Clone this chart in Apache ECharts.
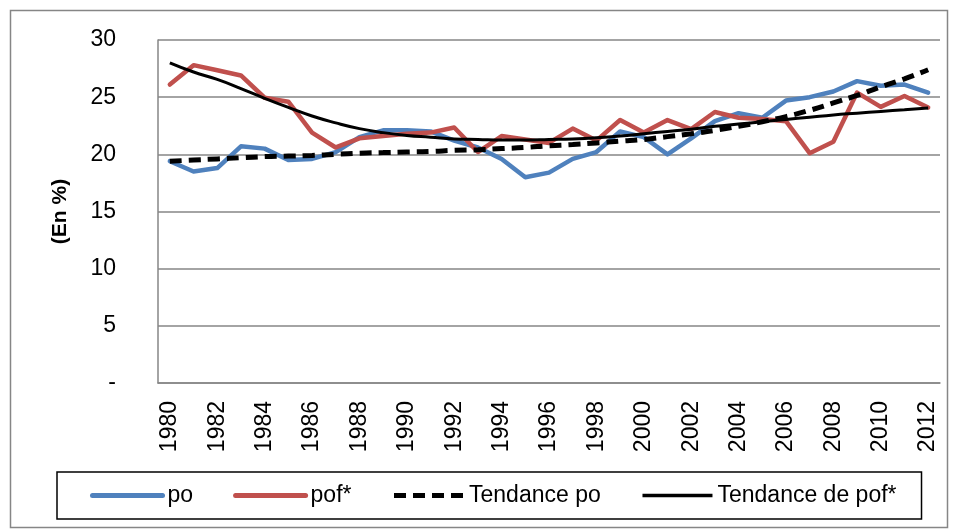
<!DOCTYPE html>
<html>
<head>
<meta charset="utf-8">
<script src="https://cdn.jsdelivr.net/npm/echarts@6/dist/echarts.min.js"></script>
<style>
  html, body { margin: 0; padding: 0; background: #fff; }
  #chart { width: 958px; height: 530px; }
</style>
</head>
<body>
<div id="chart"></div>
<script>
// annees 1980 - 2012
var years = ['1980','1981','1982','1983','1984','1985','1986','1987','1988','1989',
             '1990','1991','1992','1993','1994','1995','1996','1997','1998','1999',
             '2000','2001','2002','2003','2004','2005','2006','2007','2008','2009',
             '2010','2011','2012'];

var po = [19.4, 18.5, 18.8, 20.7, 20.5, 19.5, 19.6, 20.2, 21.5, 22.1,
          22.1, 22.0, 21.2, 20.6, 19.6, 18.0, 18.4, 19.6, 20.2, 22.0,
          21.5, 20.0, 21.4, 22.9, 23.6, 23.2, 24.7, 25.0, 25.5, 26.4,
          26.0, 26.1, 25.4];

var pof = [26.1, 27.8, 27.35, 26.9, 24.95, 24.6, 21.9, 20.6, 21.4, 21.6,
           21.8, 21.9, 22.35, 20.2, 21.6, 21.3, 21.0, 22.25, 21.2, 23.0,
           21.9, 23.0, 22.2, 23.7, 23.2, 23.1, 22.9, 20.1, 21.1, 25.4,
           24.15, 25.1, 24.1];

var tendancePo = [19.4, 19.5, 19.6, 19.7, 19.8, 19.85, 19.9, 20.0, 20.1, 20.15,
                  20.2, 20.25, 20.35, 20.4, 20.5, 20.6, 20.75, 20.85, 21.0, 21.15,
                  21.3, 21.55, 21.8, 22.1, 22.45, 22.85, 23.3, 23.85, 24.5, 25.15,
                  25.9, 26.6, 27.4];

var tendancePof = [28.0, 27.2, 26.55, 25.75, 24.9, 24.1, 23.35, 22.75, 22.25, 21.9,
                   21.65, 21.5, 21.35, 21.3, 21.25, 21.25, 21.3, 21.35, 21.45, 21.6,
                   21.8, 22.0, 22.2, 22.45, 22.65, 22.85, 23.05, 23.25, 23.45, 23.6,
                   23.75, 23.9, 24.05];

var myChart = echarts.init(document.getElementById('chart'));
var font = 'Liberation Sans, Arial, sans-serif';

var option = {
    backgroundColor: '#fff',
    animation: false,
    textStyle: { fontFamily: font, color: '#000' },
    graphic: [{
        type: 'rect',
        shape: { x: 10.5, y: 10.5, width: 937, height: 517 },
        style: { fill: 'none', stroke: '#868686', lineWidth: 1.5 },
        silent: true
    }],
    grid: { left: 158, right: 18, top: 40, bottom: 147 },
    legend: {
        left: 57,
        top: 472,
        padding: [12, 25, 12, 33],
        borderColor: '#000',
        borderWidth: 1.5,
        itemWidth: 70,
        itemHeight: 14,
        itemGap: 40,
        itemStyle: { opacity: 0 },
        textStyle: { fontFamily: font, fontSize: 23, color: '#000' },
        data: [
            { name: 'po', lineStyle: { width: 5 } },
            { name: 'pof*', lineStyle: { width: 5 } },
            { name: 'Tendance po', lineStyle: { width: 5 } },
            { name: 'Tendance de pof*', lineStyle: { width: 3.5 } }
        ]
    },
    xAxis: {
        type: 'category',
        data: years,
        boundaryGap: true,
        axisLine: { lineStyle: { color: '#868686', width: 1.5 } },
        axisTick: { show: false },
        axisLabel: {
            interval: 1,
            rotate: 90,
            margin: 18,
            fontSize: 23,
            color: '#000',
            fontFamily: font
        },
        splitLine: { show: false }
    },
    yAxis: {
        type: 'value',
        min: 0,
        max: 30,
        interval: 5,
        name: '(En %)',
        nameLocation: 'middle',
        nameRotate: 90,
        nameGap: 87,
        nameTextStyle: { fontSize: 21, fontWeight: 'bold', color: '#000', fontFamily: font },
        axisLine: { show: true, lineStyle: { color: '#868686', width: 1.5 } },
        axisTick: { show: false },
        axisLabel: {
            margin: 42,
            fontSize: 23,
            color: '#000',
            fontFamily: font,
            formatter: function (v) { return v === 0 ? '-' : v; }
        },
        splitLine: { lineStyle: { color: '#868686', width: 1.5 } }
    },
    series: [
        {
            name: 'po',
            type: 'line',
            data: po,
            symbol: 'none',
            lineStyle: { color: '#4F81BD', width: 4.5, cap: 'round', join: 'round' },
            itemStyle: { color: '#4F81BD' }
        },
        {
            name: 'pof*',
            type: 'line',
            data: pof,
            symbol: 'none',
            lineStyle: { color: '#C0504D', width: 4.5, cap: 'round', join: 'round' },
            itemStyle: { color: '#C0504D' }
        },
        {
            name: 'Tendance po',
            type: 'line',
            data: tendancePo,
            symbol: 'none',
            smooth: true,
            lineStyle: { color: '#000', width: 5, type: [12, 7] },
            itemStyle: { color: '#000' }
        },
        {
            name: 'Tendance de pof*',
            type: 'line',
            data: tendancePof,
            symbol: 'none',
            smooth: true,
            lineStyle: { color: '#000', width: 3 },
            itemStyle: { color: '#000' }
        }
    ]
};

myChart.setOption(option);
</script>
</body>
</html>
